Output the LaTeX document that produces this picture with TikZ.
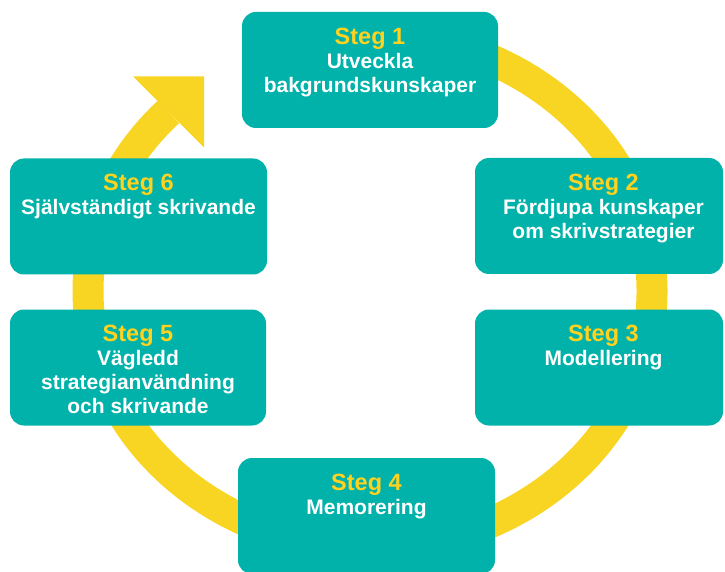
\documentclass[tikz,border=0pt]{standalone}
\usepackage{fontspec}
\setmainfont{Liberation Sans}
\usetikzlibrary{positioning}
\definecolor{boxteal}{HTML}{00B2A9}
\definecolor{ringyellow}{HTML}{F9D523}
\definecolor{stegyellow}{HTML}{FFD21F}
\newcommand{\stegsize}{\fontsize{23.5}{26}\selectfont}

\begin{document}
\begin{tikzpicture}[y=1pt, x=1pt]
	\tikzstyle{every node}=[font=\bfseries\fontsize{21}{24}\selectfont]
	\tikzstyle{stepbox}=[fill=boxteal, rounded corners=14pt, minimum height=116pt, inner sep=0]
	\tikzstyle{steptext}=[white, align=center, inner sep=0]

	\useasboundingbox (0,0) rectangle (725,571);

	%ring
	\coordinate (ring centre) at (370,280);
	\draw[ringyellow, line width=31pt] (ring centre) ++(95:282 and 256)
		arc[start angle=95, end angle=-224.4, x radius=282, y radius=256] coordinate (ring end);
	\fill[ringyellow] (ring end) ++(-35.5,35.5) -- ++(71,0) -- ++(0,-71) -- cycle;

	%boxes
	\node[stepbox, minimum width=256pt] (s1) at (370,501) {};
	\node[stepbox, minimum width=248pt] (s2) at (599,355) {};
	\node[stepbox, minimum width=248pt] (s3) at (599,203.5) {};
	\node[stepbox, minimum width=257pt] (s4) at (366.5,55) {};
	\node[stepbox, minimum width=256pt] (s5) at (138,203.5) {};
	\node[stepbox, minimum width=257pt] (s6) at (138.5,354.5) {};

	%texts
	\node[steptext, below=16pt of s1.north] (t1) {{\stegsize\color{stegyellow}Steg 1}\\Utveckla\\bakgrundskunskaper};
	\node[steptext, below=16pt of s2.north, xshift=4.5pt] (t2) {{\stegsize\color{stegyellow}Steg 2}\\Fördjupa kunskaper\\om skrivstrategier};
	\node[steptext, below=16pt of s3.north, xshift=4.5pt] (t3) {{\stegsize\color{stegyellow}Steg 3}\\Modellering};
	\node[steptext, below=16pt of s4.north] (t4) {{\stegsize\color{stegyellow}Steg 4}\\Memorering};
	\node[steptext, below=16pt of s5.north] (t5) {{\stegsize\color{stegyellow}Steg 5}\\Vägledd\\strategianvändning\\och skrivande};
	\node[steptext, below=16pt of s6.north] (t6) {{\stegsize\color{stegyellow}Steg 6}\\Självständigt skrivande};
\end{tikzpicture}
\end{document}
